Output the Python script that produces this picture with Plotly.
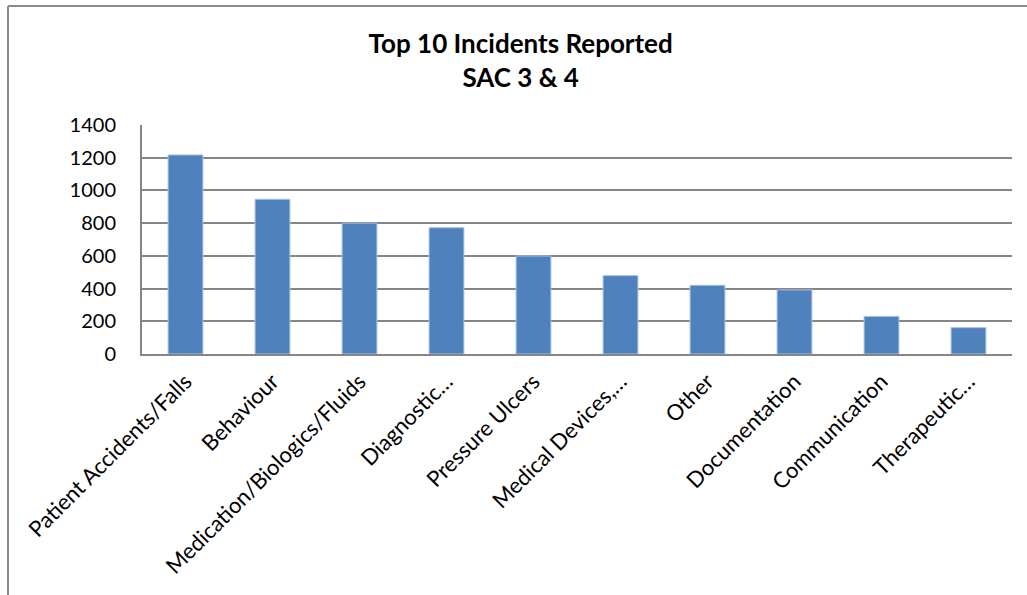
import plotly.graph_objects as go

categories = ["Patient Accidents/Falls", "Behaviour", "Medication/Biologics/Fluids",
              "Diagnostic…", "Pressure Ulcers", "Medical Devices,…", "Other",
              "Documentation", "Communication", "Therapeutic…"]
values = [1217, 946, 800, 772, 599, 479, 420, 392, 230, 161]
y_ticks = [0, 200, 400, 600, 800, 1000, 1200, 1400]

FONT = "Lato"

fig = go.Figure(go.Bar(
    x=categories, y=values,
    marker=dict(color="#4F81BD", line=dict(color="#A7C0DE", width=1)),
    width=0.4,
))

L, R, T, B = 142, 15, 125, 241
W, H = 1027, 595
pw, ph = W - L - R, H - T - B

def px_x(x):
    return (x - L) / pw

def px_y(y):
    return (H - B - y) / ph

border = dict(color="#8C8C8C", width=2)

fig.update_layout(
    width=W, height=H,
    margin=dict(l=L, r=R, t=T, b=B, autoexpand=False),
    paper_bgcolor="white", plot_bgcolor="white",
    font=dict(family=FONT, size=20, color="black"),
    title=dict(text="<b>Top 10 Incidents Reported<br>SAC 3 & 4</b>",
               x=0.507, xanchor="center", y=1 - 53 / H, yanchor="middle",
               font=dict(family=FONT, size=26, color="black")),
    showlegend=False,
    bargap=0.6,
    xaxis=dict(
        tickangle=-45, showline=True, linecolor="#868686", linewidth=2,
        ticks="", showgrid=False, tickfont=dict(size=22, family=FONT),
        ticklabelstandoff=4,
    ),
    yaxis=dict(
        range=[0, 1400], tickvals=y_ticks, showline=True, linecolor="#868686",
        linewidth=2, showgrid=True, gridcolor="#868686", gridwidth=1.5,
        ticks="", zeroline=False, tickfont=dict(size=20, family=FONT),
        ticklabelstandoff=20,
    ),
    shapes=[
        dict(type="line", xref="paper", yref="paper",
             x0=px_x(8), x1=px_x(1040), y0=px_y(6), y1=px_y(6), line=border),
        dict(type="line", xref="paper", yref="paper",
             x0=px_x(8), x1=px_x(8), y0=px_y(6), y1=px_y(620), line=border),
    ],
)

fig.write_html("out.html")
